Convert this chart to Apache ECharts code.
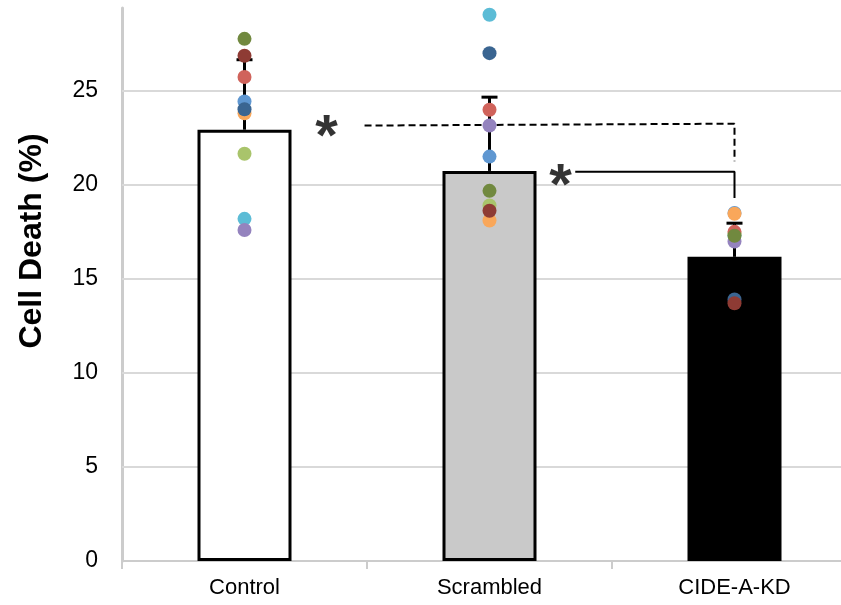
<!DOCTYPE html>
<html>
<head>
<meta charset="utf-8">
<script src="https://cdn.jsdelivr.net/npm/echarts@6/dist/echarts.min.js"></script>
<style>
html,body{margin:0;padding:0;background:#fff;}
#chart{width:841px;height:605px;}
</style>
</head>
<body>
<div id="chart"></div>
<script>
// ---- data ----
const categories = ['Control', 'Scrambled', 'CIDE-A-KD'];
const meanValues = [22.93, 20.74, 16.17];
const errorValues = [3.72, 3.92, 1.79];
const yGridValues = [5, 10, 15, 20, 25];

// replicate points (one value per category)
const repCyan       = [18.19, 29.04, 17.30];
const repPurple     = [17.60, 23.15, 16.99];
const repLightGreen = [21.65, 18.90, 17.40];
const repBlue       = [24.43, 21.50, 18.50];
const repOrange     = [23.80, 18.10, 18.46];
const repRed        = [25.73, 23.99, 17.50];
const repDarkBlue   = [24.02, 27.00, 13.90];
const repDarkRed    = [26.86, 18.62, 13.70];
const repOlive      = [27.76, 19.68, 17.29];

// significance brackets (x in category units, y in %)
const bracketDashed = [[0.49, 23.15], [2.0, 23.25], [2.0, 21.25]];
const bracketSolid  = [[1.35, 20.70], [2.0, 20.70], [2.0, 19.30]];
const starPoints    = [[0.335, 23.05], [1.29, 20.45]];

// ---- styles ----
const FONT = "'Liberation Sans', Arial, Helvetica, sans-serif";
const barColors = ['#FFFFFF', '#C9C9C9', '#000000'];
const replicates = [
  {name: 'R1', data: repCyan,       color: '#5CBCD6'},
  {name: 'R2', data: repPurple,     color: '#9483BE'},
  {name: 'R3', data: repLightGreen, color: '#A9C46B'},
  {name: 'R4', data: repBlue,       color: '#5F97D1'},
  {name: 'R5', data: repOrange,     color: '#F9A75A'},
  {name: 'R6', data: repRed,        color: '#D0635B'},
  {name: 'R7', data: repDarkBlue,   color: '#3A6591'},
  {name: 'R8', data: repDarkRed,    color: '#8E3B34'},
  {name: 'R9', data: repOlive,      color: '#71893F'}
];

const chart = echarts.init(document.getElementById('chart'), null, {renderer: 'canvas'});

const series = [];

// gridlines (behind bars)
series.push({
  type: 'line', data: [], z: 1, silent: true,
  markLine: {
    silent: true, symbol: 'none', animation: false, z: 1,
    label: {show: false},
    lineStyle: {color: '#D9D9D9', width: 2, type: 'solid'},
    data: yGridValues.map(v => ({yAxis: v}))
  }
});

// bars
series.push({
  type: 'bar', z: 10, barWidth: 94,
  data: meanValues.map((v, i) => ({
    value: v,
    itemStyle: {color: barColors[i], borderColor: '#000', borderWidth: 3}
  })),
  animation: false
});

// error bars
series.push({
  type: 'custom', z: 11, animation: false,
  data: categories.map((c, i) => [i, meanValues[i], meanValues[i] + errorValues[i]]),
  renderItem: function (params, api) {
    const p0 = api.coord([api.value(0), api.value(1)]);
    const p1 = api.coord([api.value(0), api.value(2)]);
    const st = {stroke: '#000', lineWidth: 3};
    return {
      type: 'group',
      children: [
        {type: 'line', shape: {x1: p0[0], y1: p0[1], x2: p1[0], y2: p1[1]}, style: st},
        {type: 'line', shape: {x1: p1[0] - 8, y1: p1[1], x2: p1[0] + 8, y2: p1[1]}, style: st}
      ]
    };
  }
});

// brackets
series.push({
  type: 'line', xAxisIndex: 1, z: 11, symbol: 'none', silent: true, animation: false,
  data: bracketDashed,
  lineStyle: {color: '#000', width: 2, type: [7, 4]}
});
series.push({
  type: 'line', xAxisIndex: 1, z: 11, symbol: 'none', silent: true, animation: false,
  data: bracketSolid,
  lineStyle: {color: '#000', width: 2, type: 'solid'}
});
series.push({
  type: 'scatter', xAxisIndex: 1, z: 14, symbolSize: 0, silent: true, animation: false,
  data: starPoints,
  label: {
    show: true, position: 'inside', formatter: '*', offset: [0, 12],
    fontFamily: FONT, fontWeight: 'bold', fontSize: 58, color: '#000'
  }
});

// replicate dots
replicates.forEach(r => {
  series.push({
    name: r.name, type: 'scatter', z: 13, symbol: 'circle', symbolSize: 14,
    animation: false,
    itemStyle: {color: r.color, opacity: 1},
    data: r.data.map((v, i) => [i, v])
  });
});

chart.setOption({
  animation: false,
  backgroundColor: '#fff',
  grid: {left: 122, top: 8, width: 735, height: 553, containLabel: false, outerBoundsMode: 'none'},
  xAxis: [
    {
      type: 'category', data: categories, boundaryGap: true,
      axisLine: {show: true, onZero: false, lineStyle: {color: '#CCCCCC', width: 2}},
      axisTick: {show: true, length: 8, alignWithLabel: false, lineStyle: {color: '#CCCCCC', width: 2}},
      axisLabel: {fontFamily: FONT, fontSize: 22, color: '#000', margin: 16},
      splitLine: {show: false}
    },
    {
      type: 'value', min: -0.5, max: 2.5, show: false
    }
  ],
  yAxis: {
    type: 'value', min: 0, max: 29.4, interval: 5,
    axisLine: {show: true, onZero: false, lineStyle: {color: '#CCCCCC', width: 3}},
    axisTick: {show: false},
    splitLine: {show: false},
    axisLabel: {
      fontFamily: FONT, fontSize: 23, color: '#000', margin: 24,
      showMaxLabel: false,
      formatter: v => (v % 5 === 0 ? String(v) : '')
    }
  },
  graphic: [{
    type: 'text', x: 32, y: 241, rotation: Math.PI / 2,
    style: {
      text: 'Cell Death (%)', fontFamily: FONT, fontWeight: 'bold', fontSize: 32,
      fill: '#000', textAlign: 'center', textVerticalAlign: 'middle'
    }
  }],
  series: series
});
</script>
</body>
</html>
